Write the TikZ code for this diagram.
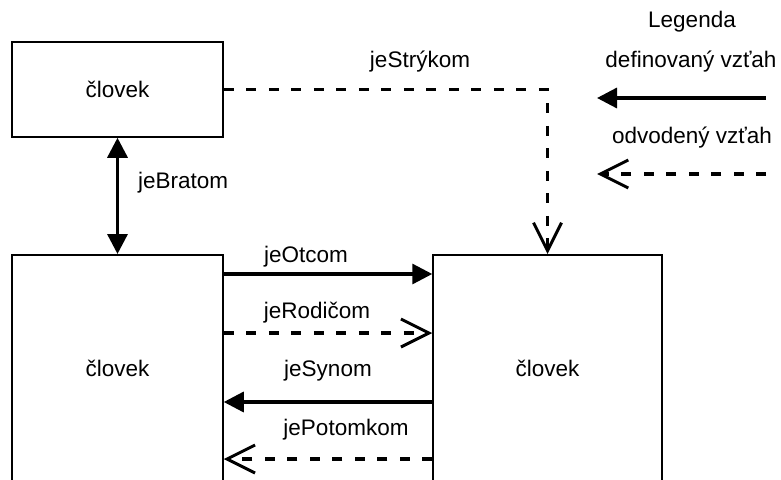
\documentclass[tikz,border=0pt]{standalone}
\usepackage{fontspec}
\setmainfont{Liberation Sans}
\usetikzlibrary{arrows.meta}
\begin{document}
\begin{tikzpicture}[x=1pt,y=-1pt,
  box/.style={draw, line width=1.5pt, minimum width=211pt, inner sep=0pt},
  lbl/.style={font=\fontsize{22.5}{27}\selectfont, inner sep=0pt},
  defrel/.style={line width=3.3pt, -{Triangle[length=20pt,width=20pt]}},
  derrel/.style={line width=3.3pt, dash pattern=on 10pt off 12.5pt, -{Straight Barb[length=28pt,width=28pt,line width=3pt]}}]
\useasboundingbox (0,0) rectangle (781,479);
\clip (0,0) rectangle (781,479);
% boxes
\node[box, lbl, minimum width=211pt, minimum height=95pt] (top) at (117.5,89.5) {človek};
\node[box, minimum height=260pt, anchor=north] (left) at (117.5,254) {};
\node[lbl] (leftlbl) at (117.5,368) {človek};
\node[box, minimum width=229pt, minimum height=260pt, anchor=north] (right) at (547.5,254) {};
\node[lbl] (rightlbl) at (547.5,368) {človek};
% rows
\coordinate (r1) at (0,274);
\coordinate (r2) at (0,333);
\coordinate (r3) at (0,402);
\coordinate (r4) at (0,459);
\draw[defrel] (left.east |- r1) -- (right.west |- r1);
\draw[derrel] (left.east |- r2) -- (right.west |- r2);
\draw[defrel] (right.west |- r3) -- (left.east |- r3);
\draw[derrel] (right.west |- r4) -- (left.east |- r4);
\node[lbl] (lOtcom) at (306,257) {jeOtcom};
\node[lbl] (lRodicom) at (317,313) {jeRodičom};
\node[lbl] (lSynom) at (328,371) {jeSynom};
\node[lbl] (lPotomkom) at (346,430) {jePotomkom};
% brother
\draw[line width=3.3pt, {Triangle[length=20pt,width=20pt]}-{Triangle[length=20pt,width=20pt]}] (top.south) -- (left.north);
\node[lbl, anchor=west] (lBratom) at (138,183) {jeBratom};
% uncle
\draw[derrel] (top.east) -| (right.north);
\node[lbl] (lStrykom) at (420,62) {jeStrýkom};
% legend
\node[lbl] (legTitle) at (692,22) {Legenda};
\node[lbl] (legDef) at (691,62) {definovaný vzťah};
\node[lbl] (legDer) at (692,138) {odvodený vzťah};
\coordinate (a1s) at (766,98);
\coordinate (a1e) at (597,98);
\coordinate (a2s) at (766,174);
\coordinate (a2e) at (597,174);
\draw[defrel] (a1s) -- (a1e);
\draw[derrel] (a2s) -- (a2e);
\end{tikzpicture}
\end{document}
